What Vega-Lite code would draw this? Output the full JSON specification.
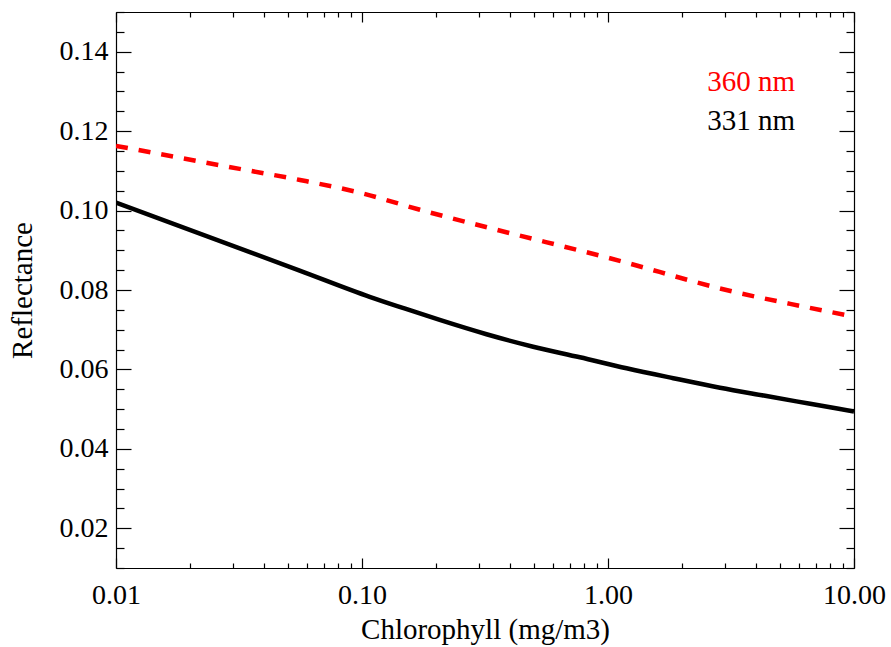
{
  "$schema": "https://vega.github.io/schema/vega-lite/v6.json",
  "width": 738,
  "height": 556,
  "autosize": {"type": "none"},
  "padding": {"left": 116, "top": 12, "right": 37, "bottom": 79},
  "background": "white",
  "config": {
    "view": {"stroke": null},
    "axis": {
      "labelFont": "Liberation Serif",
      "labelFontSize": 28,
      "labelColor": "black",
      "titleFont": "Liberation Serif",
      "titleFontSize": 29,
      "titleFontWeight": "normal",
      "titleColor": "black",
      "tickColor": "black",
      "domainColor": "black",
      "domainWidth": 1.2,
      "tickWidth": 1.2,
      "grid": false,
      "labelOverlap": false,
      "labelFlush": false,
      "labelBound": false
    }
  },
  "datasets": {
    "curves": [
      {"chl": 0.01, "refl": 0.1020, "wl": "331 nm"},
      {"chl": 0.0558, "refl": 0.0849, "wl": "331 nm"},
      {"chl": 0.1074, "refl": 0.0783, "wl": "331 nm"},
      {"chl": 0.1464, "refl": 0.0755, "wl": "331 nm"},
      {"chl": 0.207, "refl": 0.07245, "wl": "331 nm"},
      {"chl": 0.3207, "refl": 0.06885, "wl": "331 nm"},
      {"chl": 0.4962, "refl": 0.06572, "wl": "331 nm"},
      {"chl": 0.7686, "refl": 0.06305, "wl": "331 nm"},
      {"chl": 1.19, "refl": 0.06028, "wl": "331 nm"},
      {"chl": 1.842, "refl": 0.05779, "wl": "331 nm"},
      {"chl": 2.853, "refl": 0.05540, "wl": "331 nm"},
      {"chl": 4.353, "refl": 0.05336, "wl": "331 nm"},
      {"chl": 6.636, "refl": 0.05135, "wl": "331 nm"},
      {"chl": 10, "refl": 0.0494, "wl": "331 nm"},
      {"chl": 0.01, "refl": 0.1163, "wl": "360 nm"},
      {"chl": 0.0318, "refl": 0.1105, "wl": "360 nm"},
      {"chl": 0.056, "refl": 0.1077, "wl": "360 nm"},
      {"chl": 0.098, "refl": 0.1045, "wl": "360 nm"},
      {"chl": 0.172, "refl": 0.1002, "wl": "360 nm"},
      {"chl": 0.331, "refl": 0.0956, "wl": "360 nm"},
      {"chl": 1.018, "refl": 0.0880, "wl": "360 nm"},
      {"chl": 3.22, "refl": 0.0796, "wl": "360 nm"},
      {"chl": 6.04, "refl": 0.0760, "wl": "360 nm"},
      {"chl": 10, "refl": 0.0733, "wl": "360 nm"}
    ],
    "labels": [
      {"chl": 2.53, "refl": 0.1301, "wl": "360 nm"},
      {"chl": 2.53, "refl": 0.1203, "wl": "331 nm"}
    ]
  },
  "layer": [
    {
      "data": {"name": "curves"},
      "transform": [{"filter": "datum.wl == '331 nm'"}],
      "mark": {"type": "line", "color": "black", "strokeWidth": 4.5, "clip": true, "interpolate": "monotone"},
      "encoding": {
        "x": {
          "field": "chl", "type": "quantitative",
          "scale": {"type": "log", "domain": [0.01, 10], "nice": false},
          "axis": {
            "orient": "bottom",
            "title": "Chlorophyll (mg/m3)",
            "titlePadding": 1,
            "values": [0.01,0.02,0.03,0.04,0.05,0.06,0.07,0.08,0.09,0.1,0.2,0.3,0.4,0.5,0.6,0.7,0.8,0.9,1,2,3,4,5,6,7,8,9,10],
            "labelExpr": "abs(log(datum.value)/LN10 - round(log(datum.value)/LN10)) < 0.001 ? format(datum.value, '.2f') : ''",
            "tickSize": {"condition": {"test": "abs(log(datum.value)/LN10 - round(log(datum.value)/LN10)) < 0.001", "value": -10}, "value": -5},
            "labelPadding": 23
          }
        },
        "y": {
          "field": "refl", "type": "quantitative",
          "scale": {"domain": [0.01, 0.15], "nice": false, "zero": false},
          "axis": {
            "orient": "left",
            "title": "Reflectance",
            "titlePadding": 22,
            "values": [0.01,0.015,0.02,0.025,0.03,0.035,0.04,0.045,0.05,0.055,0.06,0.065,0.07,0.075,0.08,0.085,0.09,0.095,0.1,0.105,0.11,0.115,0.12,0.125,0.13,0.135,0.14,0.145,0.15],
            "labelExpr": "abs(datum.value*50 - round(datum.value*50)) < 0.001 ? format(datum.value, '.2f') : ''",
            "tickSize": {"condition": {"test": "abs(datum.value*50 - round(datum.value*50)) < 0.001", "value": -15}, "value": -8},
            "labelPadding": 23
          }
        }
      }
    },
    {
      "data": {"name": "curves"},
      "transform": [{"filter": "datum.wl == '360 nm'"}],
      "mark": {"type": "line", "color": "red", "strokeWidth": 4.5, "strokeDash": [12, 11], "clip": true, "interpolate": "monotone"},
      "encoding": {
        "x": {
          "field": "chl", "type": "quantitative",
          "scale": {"type": "log", "domain": [0.01, 10], "nice": false},
          "axis": {
            "orient": "top",
            "title": null,
            "labels": false,
            "values": [0.01,0.02,0.03,0.04,0.05,0.06,0.07,0.08,0.09,0.1,0.2,0.3,0.4,0.5,0.6,0.7,0.8,0.9,1,2,3,4,5,6,7,8,9,10],
            "tickSize": {"condition": {"test": "abs(log(datum.value)/LN10 - round(log(datum.value)/LN10)) < 0.001", "value": -10}, "value": -5}
          }
        },
        "y": {
          "field": "refl", "type": "quantitative",
          "scale": {"domain": [0.01, 0.15], "nice": false, "zero": false},
          "axis": {
            "orient": "right",
            "title": null,
            "labels": false,
            "values": [0.01,0.015,0.02,0.025,0.03,0.035,0.04,0.045,0.05,0.055,0.06,0.065,0.07,0.075,0.08,0.085,0.09,0.095,0.1,0.105,0.11,0.115,0.12,0.125,0.13,0.135,0.14,0.145,0.15],
            "tickSize": {"condition": {"test": "abs(datum.value*50 - round(datum.value*50)) < 0.001", "value": -15}, "value": -8}
          }
        }
      }
    },
    {
      "data": {"name": "labels"},
      "mark": {"type": "text", "font": "Liberation Serif", "fontSize": 29, "align": "left", "baseline": "alphabetic"},
      "encoding": {
        "x": {"field": "chl", "type": "quantitative", "scale": {"type": "log", "domain": [0.01, 10], "nice": false}, "axis": null},
        "y": {"field": "refl", "type": "quantitative", "scale": {"domain": [0.01, 0.15], "nice": false, "zero": false}, "axis": null},
        "text": {"field": "wl"},
        "color": {"field": "wl", "type": "nominal", "scale": {"domain": ["360 nm", "331 nm"], "range": ["red", "black"]}, "legend": null}
      }
    }
  ],
  "resolve": {"axis": {"x": "independent", "y": "independent"}}
}
